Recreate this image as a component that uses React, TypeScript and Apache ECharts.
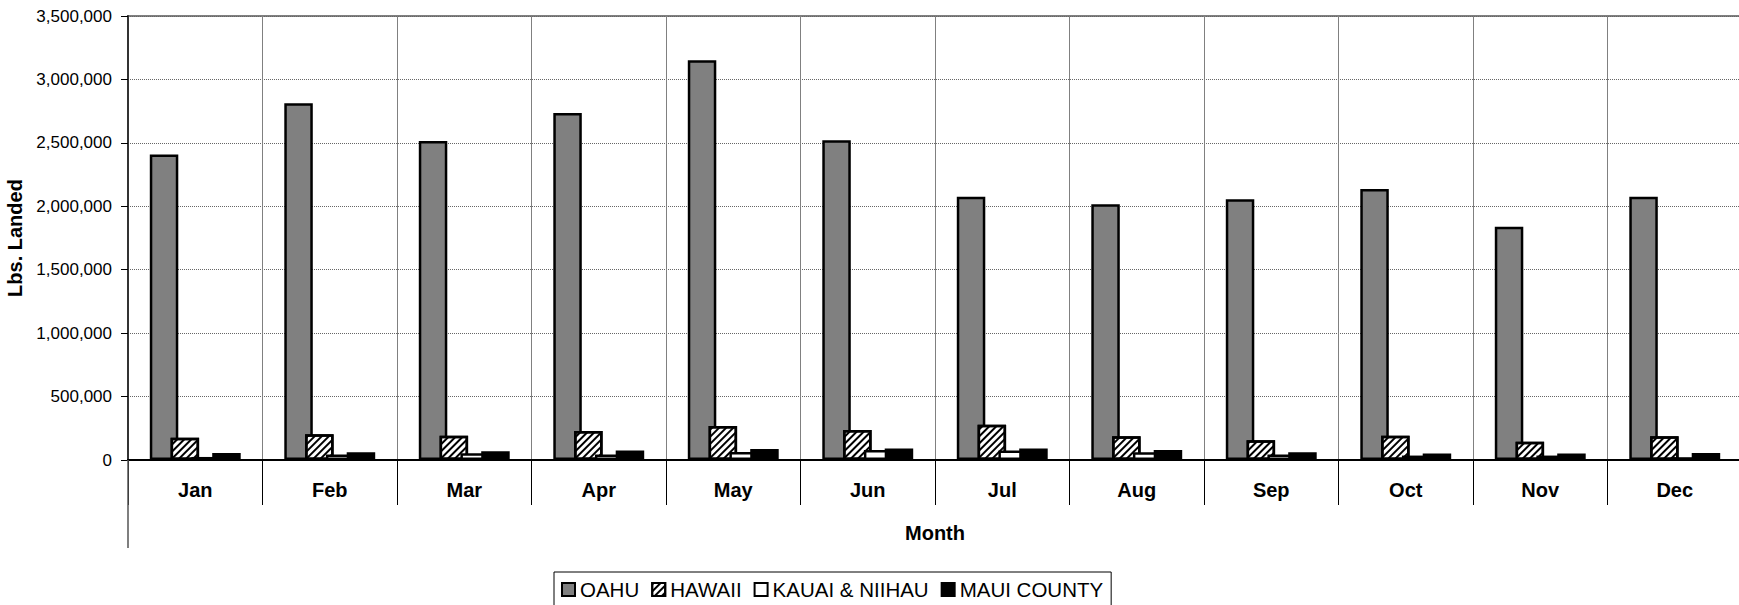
import React, { useEffect, useRef } from "react";
import * as echarts from "echarts";

const months = ["Jan", "Feb", "Mar", "Apr", "May", "Jun", "Jul", "Aug", "Sep", "Oct", "Nov", "Dec"];
const oahu = [2408000, 2812000, 2515000, 2735000, 3152000, 2520000, 2075000, 2016000, 2055000, 2136000, 1838000, 2075000];
const hawaii = [176000, 202000, 192000, 229000, 268000, 236000, 278000, 187000, 155000, 192000, 144000, 187000];
const kauai = [24000, 43000, 53000, 43000, 64000, 79000, 74000, 61000, 43000, 35000, 35000, 22000];
const maui = [56000, 61000, 69000, 74000, 87000, 90000, 90000, 79000, 61000, 51000, 51000, 56000];
const yTicks = { min: 0, max: 3500000, interval: 500000 };

const FONT = "'Liberation Sans', Arial, sans-serif";

export default function App() {
  const ref = useRef<HTMLDivElement>(null);
  useEffect(() => {
    if (!ref.current) return;
    document.body.style.overflow = "hidden";
    const chart = echarts.init(ref.current, null, { renderer: "svg" });
    const barCommon = {
      type: "bar",
      barWidth: 28.5,
      barGap: "-27%",
    };
    chart.setOption({
      animation: false,
      backgroundColor: "#fff",
      textStyle: { fontFamily: FONT },
      grid: {
        left: 128,
        right: -3,
        top: 16,
        bottom: 145,
        outerBoundsMode: "none",
        containLabel: false,
        show: true,
        borderColor: "#808080",
        borderWidth: 2,
        backgroundColor: "transparent",
      },
      legend: {
        left: 554,
        top: 572,
        icon: "rect",
        itemWidth: 13,
        itemHeight: 13,
        itemGap: 12,
        padding: [7, 8, 7, 7],
        borderColor: "#000",
        borderWidth: 1,
        textStyle: { fontSize: 20.5, color: "#000", fontFamily: FONT },
        data: ["OAHU", "HAWAII", "KAUAI & NIIHAU", "MAUI COUNTY"],
      },
      xAxis: {
        type: "category",
        data: months,
        boundaryGap: true,
        name: "Month",
        nameLocation: "middle",
        nameGap: 63,
        nameTextStyle: { fontSize: 20, fontWeight: "bold", color: "#000", fontFamily: FONT },
        axisLine: { lineStyle: { color: "#000", width: 2 } },
        axisTick: { show: true, length: 45, interval: 0, lineStyle: { color: "#000", width: 1 } },
        axisLabel: { fontSize: 20, fontWeight: "bold", color: "#000", margin: 20, interval: 0, fontFamily: FONT },
        splitLine: { show: true, interval: 0, lineStyle: { color: "#808080", width: 1 } },
      },
      yAxis: {
        type: "value",
        min: yTicks.min,
        max: yTicks.max,
        interval: yTicks.interval,
        name: "Lbs. Landed",
        nameLocation: "middle",
        nameRotate: 90,
        nameGap: 96,
        nameTextStyle: { fontSize: 20, fontWeight: "bold", color: "#000", fontFamily: FONT },
        axisLine: { show: true, lineStyle: { color: "#333", width: 2 } },
        axisTick: { show: true, length: 7, lineStyle: { color: "#000", width: 1 } },
        axisLabel: {
          fontSize: 17,
          color: "#000",
          margin: 16,
          fontFamily: FONT,
          formatter: (v: number) => v.toLocaleString("en-US"),
        },
        splitLine: { show: true, lineStyle: { color: "#666", width: 1, type: [1, 1] } },
      },
      graphic: [
        {
          type: "line",
          shape: { x1: 128, y1: 460, x2: 128, y2: 548 },
          style: { stroke: "#555", lineWidth: 1.5 },
          z: 10,
        },
      ],
      series: [
        {
          ...barCommon,
          name: "OAHU",
          data: oahu,
          itemStyle: { color: "#808080", borderColor: "#000", borderWidth: 2.5 },
        },
        {
          ...barCommon,
          name: "HAWAII",
          data: hawaii,
          itemStyle: {
            color: "#fff",
            borderColor: "#000",
            borderWidth: 2.5,
            decal: {
              symbol: "rect",
              symbolSize: 1,
              dashArrayX: [1, 0],
              dashArrayY: [2, 3],
              rotation: -Math.PI / 4,
              color: "#000",
              backgroundColor: "#fff",
            },
          },
        },
        {
          ...barCommon,
          name: "KAUAI & NIIHAU",
          data: kauai,
          itemStyle: { color: "#fff", borderColor: "#000", borderWidth: 2.5 },
        },
        {
          ...barCommon,
          name: "MAUI COUNTY",
          data: maui,
          itemStyle: { color: "#000", borderColor: "#000", borderWidth: 2.5 },
        },
      ],
    });
    return () => chart.dispose();
  }, []);
  return (
    <div
      ref={ref}
      style={{ position: "fixed", left: 0, top: 0, width: 1739, height: 605, background: "#fff" }}
    />
  );
}
